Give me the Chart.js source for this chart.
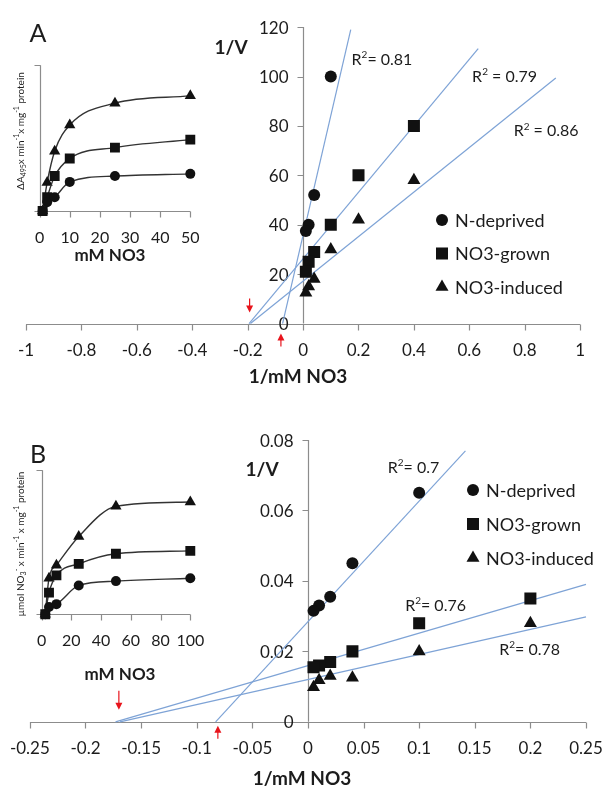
<!DOCTYPE html>
<html>
<head>
<meta charset="utf-8">
<script src="https://cdn.jsdelivr.net/npm/chart.js"></script>
<style>
  body { margin: 0; background: #fff; }
  canvas { display: block; }
</style>
</head>
<body>
<canvas id="fig" width="612" height="791"></canvas>
<script>
// ---- panel A, Lineweaver-Burk (1/mM NO3 vs 1/V)
const aCircX = [0.1, 0.04, 0.02, 0.01];
const aCircY = [100, 52, 40, 37.5];
const aSqX = [0.4, 0.2, 0.1, 0.04, 0.02, 0.01];
const aSqY = [80, 60, 40, 29, 25, 21];
const aTriX = [0.4, 0.2, 0.1, 0.04, 0.02, 0.01];
const aTriY = [58, 42, 30, 18, 15, 12.5];
// trend line end points
const aFitCircX = [-0.074, 0.172], aFitCircY = [0, 119];
const aFitSqX = [-0.195, 0.632], aFitSqY = [0, 111.3];
const aFitTriX = [-0.19, 0.912], aFitTriY = [0, 99.4];
const aR2 = ['0.81', '0.79', '0.86'];
const aXTicks = [-1, -0.8, -0.6, -0.4, -0.2, 0, 0.2, 0.4, 0.6, 0.8, 1];
const aYTicks = [0, 20, 40, 60, 80, 100, 120];

// panel A inset (mM NO3 vs activity, no y scale shown)
const iaConc = [1, 2.5, 5, 10, 25, 50];
const iaCirc = [0, 6, 9.5, 20, 24, 25.5];
const iaSq = [0, 9.5, 24, 36, 43.5, 49];
const iaTri = [0, 19.5, 41, 59, 74, 79];
const iaXTicks = [0, 10, 20, 30, 40, 50];

// ---- panel B
const bCircX = [0.1, 0.04, 0.02, 0.01, 0.005];
const bCircY = [0.065, 0.045, 0.0355, 0.033, 0.0315];
const bSqX = [0.2, 0.1, 0.04, 0.02, 0.01, 0.005];
const bSqY = [0.035, 0.028, 0.02, 0.017, 0.016, 0.0155];
const bTriX = [0.2, 0.1, 0.04, 0.02, 0.01, 0.005];
const bTriY = [0.028, 0.02, 0.0125, 0.013, 0.0118, 0.0098];
const bFitCircX = [-0.083, 0.1416], bFitCircY = [0, 0.0769];
const bFitSqX = [-0.173, 0.25], bFitSqY = [0, 0.039];
const bFitTriX = [-0.169, 0.25], bFitTriY = [0, 0.0298];
const bR2 = ['0.7', '0.76', '0.78'];
const bXTicks = [-0.25, -0.2, -0.15, -0.1, -0.05, 0, 0.05, 0.1, 0.15, 0.2, 0.25];
const bYTicks = [0, 0.02, 0.04, 0.06, 0.08];

const ibConc = [2.5, 5, 10, 25, 50, 100];
const ibCirc = [0, 5, 7, 20, 23, 25];
const ibSq = [0, 15, 27, 35, 42, 44];
const ibTri = [0, 25, 34, 54, 75, 78];
const ibXTicks = [0, 20, 40, 60, 80, 100];

const seriesNames = ['N-deprived', 'NO3-grown', 'NO3-induced'];

const W = 612, H = 791;
const FONT = 'Lato, "Open Sans", sans-serif';
const INK = '#1c1c1c';
const AXIS = '#8c8c8c';
const TREND = '#7ea3d6';

const pts = (xs, ys) => xs.map((x, i) => ({ x, y: ys[i] }));
const fmt = v => String(+v.toFixed(3));

// every panel shares one canvas: each scale gets the min/max that puts
// value a at pixel pa and value b at pixel pb across the full canvas
function hScale(a, b, pa, pb) {
  const k = (pb - pa) / (b - a), min = a - pa / k;
  return { type: 'linear', axis: 'x', display: false, min, max: min + W / k };
}
function vScale(a, b, pa, pb) {
  const k = (pa - pb) / (b - a), min = a - (H - pa) / k;
  return { type: 'linear', axis: 'y', display: false, min, max: min + H / k };
}

function markSet(xs, ys, style, r, ax) {
  return { data: pts(xs, ys), xAxisID: 'x' + ax, yAxisID: 'y' + ax, pointStyle: style, pointRadius: r,
    pointHoverRadius: r, backgroundColor: '#111', pointBorderWidth: 0, showLine: false, order: 1 };
}
function fitSet(xs, ys, ax) {
  return { data: pts(xs, ys), xAxisID: 'x' + ax, yAxisID: 'y' + ax, showLine: true, pointRadius: 0,
    borderColor: TREND, borderWidth: 1.2, order: 2 };
}
function curveSet(xs, ys, style, r, ax) {
  return { data: pts(xs, ys), xAxisID: 'x' + ax, yAxisID: 'y' + ax, showLine: true,
    cubicInterpolationMode: 'monotone', borderColor: '#333', borderWidth: 1.4, pointStyle: style,
    pointRadius: r, pointHoverRadius: r, backgroundColor: '#111', pointBorderWidth: 0, order: 1 };
}

// text with sub/superscripts
function drawRich(ctx, parts, x, y, size, align) {
  const fontFor = m => `${m === 'n' ? size : Math.round(size * 0.65)}px ${FONT}`;
  let total = 0;
  parts.forEach(([t, m]) => { ctx.font = fontFor(m); total += ctx.measureText(t).width; });
  let cx = align === 'center' ? x - total / 2 : x;
  ctx.textAlign = 'left';
  ctx.textBaseline = 'alphabetic';
  const base = y + size * 0.35;
  parts.forEach(([t, m]) => {
    ctx.font = fontFor(m);
    const dy = m === 'sup' ? -size * 0.42 : m === 'sub' ? size * 0.22 : 0;
    ctx.fillText(t, cx, base + dy);
    cx += ctx.measureText(t).width;
  });
}

function drawShape(ctx, style, x, y, r) {
  ctx.beginPath();
  if (style === 'circle') ctx.arc(x, y, r, 0, Math.PI * 2);
  else if (style === 'rect') { const s = r * Math.SQRT1_2; ctx.rect(x - s, y - s, 2 * s, 2 * s); }
  else {
    for (let k = 0; k < 3; k++) {
      const a = k * 2 * Math.PI / 3;
      ctx[k ? 'lineTo' : 'moveTo'](x + Math.sin(a) * r, y - Math.cos(a) * r);
    }
    ctx.closePath();
  }
  ctx.fill();
}

function arrow(ctx, x, yTail, yTip) {
  const dir = yTip > yTail ? 1 : -1;
  ctx.strokeStyle = '#e8141c'; ctx.fillStyle = '#e8141c'; ctx.lineWidth = 1.2;
  ctx.beginPath(); ctx.moveTo(x, yTail); ctx.lineTo(x, yTip - dir * 5); ctx.stroke();
  ctx.beginPath(); ctx.moveTo(x, yTip); ctx.lineTo(x - 3.5, yTip - dir * 7); ctx.lineTo(x + 3.5, yTip - dir * 7);
  ctx.closePath(); ctx.fill();
}

// axes crossing at zero, Excel style
function drawAxes(ctx, sx, sy, p) {
  const r = v => Math.round(v) + 0.5;
  const x0 = r(sx.getPixelForValue(0)), y0 = r(sy.getPixelForValue(0));
  const xt = p.xTicks, yt = p.yTicks;
  ctx.strokeStyle = AXIS; ctx.lineWidth = 1.2;
  ctx.beginPath();
  ctx.moveTo(sx.getPixelForValue(xt[0]), y0); ctx.lineTo(sx.getPixelForValue(xt[xt.length - 1]), y0);
  ctx.moveTo(x0, sy.getPixelForValue(yt[0])); ctx.lineTo(x0, sy.getPixelForValue(yt[yt.length - 1]));
  xt.forEach(v => { const px = r(sx.getPixelForValue(v)); ctx.moveTo(px, y0); ctx.lineTo(px, y0 + 6); });
  yt.forEach(v => { const py = r(sy.getPixelForValue(v)); ctx.moveTo(x0, py); ctx.lineTo(x0 - 6, py); });
  ctx.stroke();
  ctx.fillStyle = INK; ctx.font = `${p.size}px ${FONT}`; ctx.textBaseline = 'middle';
  ctx.textAlign = 'center';
  xt.forEach(v => ctx.fillText(fmt(v), sx.getPixelForValue(v), y0 + 26));
  if (p.yLabels) {
    ctx.textAlign = 'right';
    yt.forEach(v => ctx.fillText(fmt(v), x0 - 15, sy.getPixelForValue(v) + 1));
  }
}

const BOLD = `bold 19px ${FONT}`;
const panels = [
  { ax: 'A', xTicks: aXTicks, yTicks: aYTicks, size: 17, yLabels: true,
    texts: [
      { text: 'A', x: 38, y: 34, font: `25px ${FONT}` },
      { text: '1/V', x: 231, y: 48, font: BOLD },
      { text: '1/mM NO3', x: 298, y: 377, font: BOLD }
    ],
    r2: [
      { x: 0.175, y: 107, gap: '= ', text: aR2[0] },
      { x: 0.61, y: 100, gap: ' = ', text: aR2[1] },
      { x: 0.76, y: 78, gap: ' = ', text: aR2[2] }
    ],
    arrows: [{ x: -0.193, tail: -25, tip: -11 }, { x: -0.08, tail: 23, tip: 10 }],
    legend: { x: 442, y: 220, dy: 33.5 } },
  { ax: 'Ia', xTicks: iaXTicks, yTicks: [0, 100], size: 16, yLabels: false,
    texts: [{ text: 'mM NO3', x: 110, y: 256, font: `bold 17px ${FONT}` }],
    rot: { x: 20, y: 131, size: 10, parts: [['ΔA', 'n'], ['495', 'sub'], ['x min', 'n'], ['-1', 'sup'], ['x mg', 'n'], ['-1', 'sup'], [' protein', 'n']] } },
  { ax: 'B', xTicks: bXTicks, yTicks: bYTicks, size: 17, yLabels: true,
    texts: [
      { text: 'B', x: 38, y: 455, font: `25px ${FONT}` },
      { text: '1/V', x: 262, y: 470, font: BOLD },
      { text: '1/mM NO3', x: 302, y: 779, font: BOLD }
    ],
    r2: [
      { x: 0.0717, y: 0.0722, gap: '= ', text: bR2[0] },
      { x: 0.0874, y: 0.033, gap: '= ', text: bR2[1] },
      { x: 0.172, y: 0.0206, gap: '= ', text: bR2[2] }
    ],
    arrows: [{ x: -0.17, tail: -31, tip: -12 }, { x: -0.081, tail: 17, tip: 4 }],
    legend: { x: 473, y: 490, dy: 34 } },
  { ax: 'Ib', xTicks: ibXTicks, yTicks: [0, 100], size: 16, yLabels: false,
    texts: [{ text: 'mM NO3', x: 120, y: 675, font: `bold 17px ${FONT}` }],
    rot: { x: 20, y: 544, size: 10, parts: [['µmol NO', 'n'], ['3', 'sub'], ['-', 'sup'], [' x min', 'n'], ['-1', 'sup'], [' x mg', 'n'], ['-1', 'sup'], [' protein', 'n']] } }
];

const extras = {
  id: 'extras',
  beforeDatasetsDraw(chart) {
    const ctx = chart.ctx;
    ctx.save();
    panels.forEach(p => drawAxes(ctx, chart.scales['x' + p.ax], chart.scales['y' + p.ax], p));
    ctx.restore();
  },
  afterDraw(chart) {
    const ctx = chart.ctx;
    ctx.save();
    panels.forEach(p => {
      const sx = chart.scales['x' + p.ax], sy = chart.scales['y' + p.ax];
      p.texts.forEach(t => {
        ctx.font = t.font; ctx.fillStyle = INK; ctx.textAlign = 'center'; ctx.textBaseline = 'middle';
        ctx.fillText(t.text, t.x, t.y);
      });
      ctx.fillStyle = INK;
      (p.r2 || []).forEach(r => drawRich(ctx, [['R', 'n'], ['2', 'sup'], [r.gap + r.text, 'n']],
        sx.getPixelForValue(r.x), sy.getPixelForValue(r.y), 16, 'left'));
      if (p.rot) {
        ctx.save(); ctx.translate(p.rot.x, p.rot.y); ctx.rotate(-Math.PI / 2);
        ctx.fillStyle = INK; drawRich(ctx, p.rot.parts, 0, 0, p.rot.size, 'center'); ctx.restore();
      }
      const y0 = sy.getPixelForValue(0);
      (p.arrows || []).forEach(a => arrow(ctx, sx.getPixelForValue(a.x), y0 + a.tail, y0 + a.tip));
      if (p.legend) {
        const L = p.legend;
        ['circle', 'rect', 'triangle'].forEach((s, i) => {
          const y = L.y + i * L.dy;
          ctx.fillStyle = '#111';
          drawShape(ctx, s, L.x, y, s === 'circle' ? 6 : s === 'rect' ? 8.5 : 7.5);
          ctx.fillStyle = INK; ctx.font = `18px ${FONT}`; ctx.textAlign = 'left'; ctx.textBaseline = 'middle';
          ctx.fillText(seriesNames[i], L.x + 13, y + 1);
        });
      }
    });
    ctx.restore();
  }
};

new Chart(document.getElementById('fig'), {
  type: 'scatter',
  data: { datasets: [
    markSet(aCircX, aCircY, 'circle', 6, 'A'),
    markSet(aSqX, aSqY, 'rect', 8.5, 'A'),
    markSet(aTriX, aTriY, 'triangle', 7.5, 'A'),
    fitSet(aFitCircX, aFitCircY, 'A'), fitSet(aFitSqX, aFitSqY, 'A'), fitSet(aFitTriX, aFitTriY, 'A'),
    curveSet(iaConc, iaCirc, 'circle', 5, 'Ia'),
    curveSet(iaConc, iaSq, 'rect', 7, 'Ia'),
    curveSet(iaConc, iaTri, 'triangle', 6.5, 'Ia'),
    markSet(bCircX, bCircY, 'circle', 6, 'B'),
    markSet(bSqX, bSqY, 'rect', 8.5, 'B'),
    markSet(bTriX, bTriY, 'triangle', 7.5, 'B'),
    fitSet(bFitCircX, bFitCircY, 'B'), fitSet(bFitSqX, bFitSqY, 'B'), fitSet(bFitTriX, bFitTriY, 'B'),
    curveSet(ibConc, ibCirc, 'circle', 5, 'Ib'),
    curveSet(ibConc, ibSq, 'rect', 7, 'Ib'),
    curveSet(ibConc, ibTri, 'triangle', 6.5, 'Ib')
  ] },
  options: {
    responsive: false, animation: false, events: [],
    layout: { padding: 0 },
    plugins: { legend: { display: false }, tooltip: { enabled: false } },
    scales: {
      xA: hScale(-1, 1, 18, 588), yA: vScale(0, 120, 322, 19),
      xIa: hScale(0, 50, 32, 187), yIa: vScale(0, 100, 207, 58),
      xB: hScale(-0.25, 0.25, 22, 594), yB: vScale(0, 0.08, 729, 441),
      xIb: hScale(0, 100, 34, 187), yIb: vScale(0, 100, 619, 472)
    }
  },
  plugins: [extras]
});
</script>
</body>
</html>
